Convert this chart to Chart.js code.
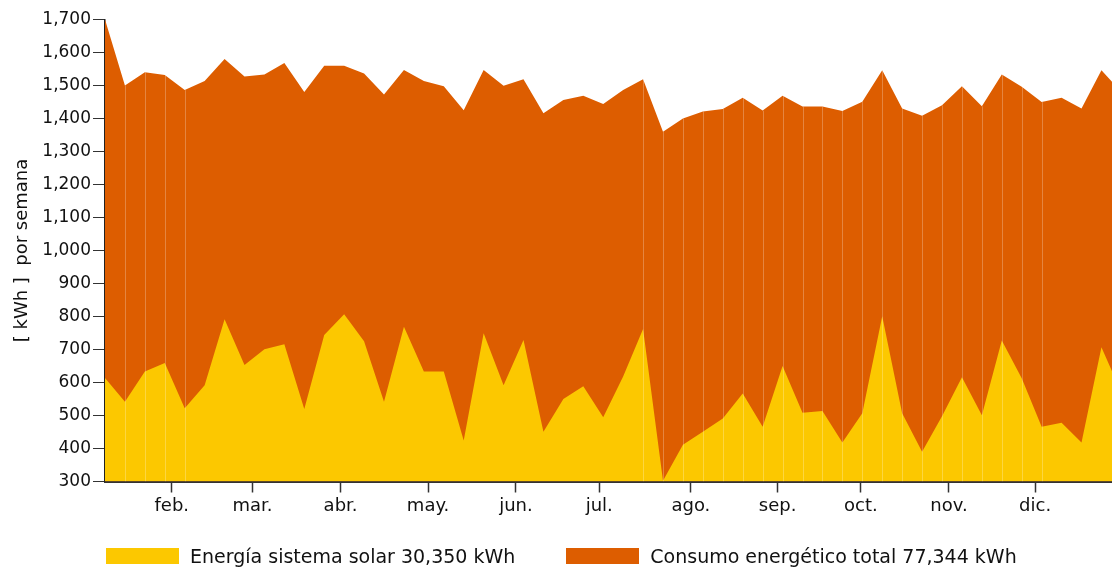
<!DOCTYPE html>
<html>
<head>
<meta charset="utf-8">
<script src="https://cdn.jsdelivr.net/npm/chart.js@4"></script>
<style>
  html, body { margin: 0; padding: 0; background: #fff; }
  #wrap { position: relative; width: 1112px; height: 570px; }
  #legend { position: absolute; left: 106px; top: 545px; display: flex; align-items: center;
            font: 19px "DejaVu Sans", sans-serif; color: #111; white-space: nowrap; }
  .item { display: flex; align-items: center; margin-right: 51px; }
  .box { width: 73px; height: 16px; margin-right: 11px; }
</style>
</head>
<body>
<div id="wrap">
  <canvas id="energyChart"></canvas>
  <div id="legend"></div>
</div>
<script>
// weekly values (kWh), one per week, first week starts early January
const solarWeekly = [614, 542, 633, 659, 522, 592, 792, 653, 701, 716, 520, 744, 807, 725, 542, 769, 633, 633, 424, 749,
  592, 729, 451, 550, 589, 495, 618, 762, 302, 411, 451, 491, 567, 466, 650, 508, 514, 418, 507, 801,
  507, 390, 498, 616, 501, 727, 613, 466, 478, 418, 707, 570];
const totalWeekly = [1700, 1500, 1540, 1532, 1486, 1514, 1580, 1527, 1533, 1568, 1480, 1560, 1560, 1536, 1473, 1547, 1514, 1498, 1425, 1547,
  1499, 1519, 1416, 1456, 1469, 1444, 1486, 1519, 1360, 1400, 1421, 1429, 1463, 1424, 1469, 1436, 1436, 1423, 1451, 1546,
  1430, 1408, 1440, 1498, 1437, 1533, 1496, 1450, 1463, 1430, 1546, 1480];

// month ticks, position counted in weeks from the first point
const monthLabels = ['feb.', 'mar.', 'abr.', 'may.', 'jun.', 'jul.', 'ago.', 'sep.', 'oct.', 'nov.', 'dic.'];
const monthPositions = [3.35, 7.40, 11.82, 16.21, 20.62, 24.80, 29.40, 33.75, 37.93, 42.35, 46.67];

const seriesNames = ['Energía sistema solar 30,350 kWh', 'Consumo energético total 77,344 kWh'];
const seriesColors = ['#fcc800', '#dd5d00'];

// weeks where the original shows thin seams between area segments
const seamWeeks = [1, 2, 3, 4, 27, 28, 29, 30, 31, 32, 33, 34, 35, 36, 37, 38, 39, 40, 41, 42, 43, 44, 45, 46, 47];

const toPoints = arr => arr.map((v, i) => ({ x: i, y: v }));

const seamLines = {
  id: 'seamLines',
  afterDatasetsDraw(chart) {
    const { ctx, chartArea, scales } = chart;
    ctx.save();
    ctx.beginPath();
    ctx.rect(chartArea.left, chartArea.top, chartArea.width, chartArea.height);
    ctx.clip();
    ctx.strokeStyle = 'rgba(255,255,255,0.25)';
    ctx.lineWidth = 1;
    seamWeeks.forEach(i => {
      const px = Math.round(scales.x.getPixelForValue(i)) + 0.5;
      ctx.beginPath();
      ctx.moveTo(px, scales.y.getPixelForValue(totalWeekly[i]));
      ctx.lineTo(px, chartArea.bottom);
      ctx.stroke();
    });
    ctx.restore();
  }
};

const font = { family: '"DejaVu Sans", Verdana, sans-serif', size: 18 };

new Chart(document.getElementById('energyChart'), {
  type: 'line',
  data: {
    datasets: [
      {
        label: seriesNames[0],
        data: toPoints(solarWeekly),
        backgroundColor: seriesColors[0],
        borderWidth: 0,
        pointRadius: 0,
        fill: 'start'
      },
      {
        label: seriesNames[1],
        data: toPoints(totalWeekly),
        backgroundColor: seriesColors[1],
        borderWidth: 0,
        pointRadius: 0,
        fill: 'start'
      }
    ]
  },
  options: {
    responsive: true,
    maintainAspectRatio: false,
    animation: false,
    layout: { padding: { top: 19.5, right: 0, bottom: 40, left: 0 } },
    plugins: {
      legend: { display: false },
      tooltip: { enabled: false }
    },
    scales: {
      x: {
        type: 'linear',
        min: 0,
        max: 50.53,
        bounds: 'data',
        afterFit: s => { s.height = 48.5; },
        afterBuildTicks: s => { s.ticks = monthPositions.map(v => ({ value: v })); },
        ticks: {
          autoSkip: false,
          maxRotation: 0,
          padding: 3,
          color: '#111',
          font: font,
          callback: (v, i) => monthLabels[i]
        },
        grid: { drawOnChartArea: false, tickLength: 11, tickColor: '#333', tickWidth: 1.5 },
        border: { color: '#333', width: 2 }
      },
      y: {
        min: 300,
        max: 1700,
        afterFit: s => { s.width = 105; },
        ticks: {
          stepSize: 100,
          padding: 2,
          color: '#111',
          font: { family: font.family, size: 17 },
          callback: v => v.toLocaleString('en-US')
        },
        grid: { drawOnChartArea: false, tickLength: 12, tickColor: '#333' },
        border: { color: '#222', width: 1.5 },
        title: {
          display: true,
          text: '[ kWh ]  por semana',
          color: '#111',
          font: font,
          padding: { top: 12, bottom: 0 }
        }
      }
    }
  },
  plugins: [seamLines]
});

// legend built from the same series names and colours
const legend = document.getElementById('legend');
seriesNames.forEach((name, i) => {
  const item = document.createElement('div');
  item.className = 'item';
  const box = document.createElement('span');
  box.className = 'box';
  box.style.background = seriesColors[i];
  const txt = document.createElement('span');
  txt.textContent = name;
  item.appendChild(box);
  item.appendChild(txt);
  legend.appendChild(item);
});
</script>
</body>
</html>
